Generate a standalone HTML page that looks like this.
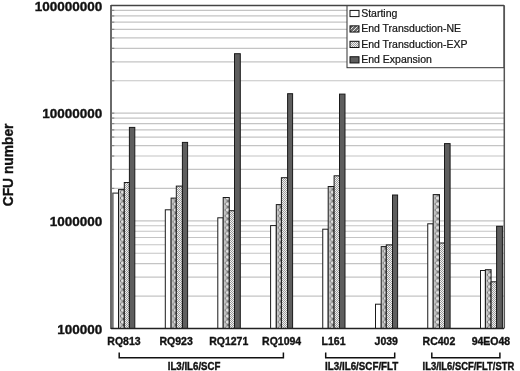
<!DOCTYPE html>
<html><head><meta charset="utf-8"><style>
html,body{margin:0;padding:0;background:#fff;}
body{width:520px;height:371px;overflow:hidden;position:relative;}
svg{position:absolute;left:0;top:0;will-change:transform;}
text{font-family:"Liberation Sans",sans-serif;}
.b{stroke:#111;stroke-width:0.35px;paint-order:stroke;}
.r{stroke:#222;stroke-width:0.22px;}
</style></head><body>
<svg width="520" height="371" viewBox="0 0 520 371">
<defs>
<pattern id="pNE" width="6" height="6" patternUnits="userSpaceOnUse" y="0.3">
<rect width="6" height="6" fill="#b4b4b4"/>
<ellipse cx="3.2" cy="3" rx="2.2" ry="1.3" transform="rotate(-50 3.2 3)" fill="#f2f2f2" stroke="#6a6a6a" stroke-width="0.7"/>
<circle cx="5.6" cy="5.4" r="0.7" fill="#333"/>
<circle cx="0.4" cy="0.6" r="0.6" fill="#444"/>
</pattern>
<pattern id="pEXP" width="2" height="2" patternUnits="userSpaceOnUse">
<rect width="2" height="2" fill="#f0f0f0"/>
<rect width="1" height="1" fill="#9c9c9c"/>
<rect x="1" y="1" width="1" height="1" fill="#9c9c9c"/>
</pattern>
<pattern id="pNEL" width="4" height="4" patternUnits="userSpaceOnUse">
<rect width="4" height="4" fill="#6e6e6e"/>
<path d="M0 4 L4 0" stroke="#e8e8e8" stroke-width="1"/>
</pattern>
</defs>

<line x1="111" y1="296.10" x2="504" y2="296.10" stroke="#c4c4c4" stroke-width="1.2"/>
<line x1="111" y1="277.14" x2="504" y2="277.14" stroke="#c4c4c4" stroke-width="1.2"/>
<line x1="111" y1="263.69" x2="504" y2="263.69" stroke="#c4c4c4" stroke-width="1.2"/>
<line x1="111" y1="253.25" x2="504" y2="253.25" stroke="#c4c4c4" stroke-width="1.2"/>
<line x1="111" y1="244.73" x2="504" y2="244.73" stroke="#c4c4c4" stroke-width="1.2"/>
<line x1="111" y1="237.52" x2="504" y2="237.52" stroke="#c4c4c4" stroke-width="1.2"/>
<line x1="111" y1="231.27" x2="504" y2="231.27" stroke="#c4c4c4" stroke-width="1.2"/>
<line x1="111" y1="225.77" x2="504" y2="225.77" stroke="#c4c4c4" stroke-width="1.2"/>
<line x1="111" y1="220.84" x2="504" y2="220.84" stroke="#c4c4c4" stroke-width="1.2"/>
<line x1="111" y1="188.43" x2="504" y2="188.43" stroke="#c4c4c4" stroke-width="1.2"/>
<line x1="111" y1="169.47" x2="504" y2="169.47" stroke="#c4c4c4" stroke-width="1.2"/>
<line x1="111" y1="156.02" x2="504" y2="156.02" stroke="#c4c4c4" stroke-width="1.2"/>
<line x1="111" y1="145.58" x2="504" y2="145.58" stroke="#c4c4c4" stroke-width="1.2"/>
<line x1="111" y1="137.06" x2="504" y2="137.06" stroke="#c4c4c4" stroke-width="1.2"/>
<line x1="111" y1="129.85" x2="504" y2="129.85" stroke="#c4c4c4" stroke-width="1.2"/>
<line x1="111" y1="123.60" x2="504" y2="123.60" stroke="#c4c4c4" stroke-width="1.2"/>
<line x1="111" y1="118.10" x2="504" y2="118.10" stroke="#c4c4c4" stroke-width="1.2"/>
<line x1="111" y1="113.17" x2="504" y2="113.17" stroke="#c4c4c4" stroke-width="1.2"/>
<line x1="111" y1="80.76" x2="504" y2="80.76" stroke="#c4c4c4" stroke-width="1.2"/>
<line x1="111" y1="61.80" x2="504" y2="61.80" stroke="#c4c4c4" stroke-width="1.2"/>
<line x1="111" y1="48.35" x2="504" y2="48.35" stroke="#c4c4c4" stroke-width="1.2"/>
<line x1="111" y1="37.91" x2="504" y2="37.91" stroke="#c4c4c4" stroke-width="1.2"/>
<line x1="111" y1="29.39" x2="504" y2="29.39" stroke="#c4c4c4" stroke-width="1.2"/>
<line x1="111" y1="22.18" x2="504" y2="22.18" stroke="#c4c4c4" stroke-width="1.2"/>
<line x1="111" y1="15.93" x2="504" y2="15.93" stroke="#c4c4c4" stroke-width="1.2"/>
<line x1="111" y1="10.43" x2="504" y2="10.43" stroke="#c4c4c4" stroke-width="1.2"/>
<line x1="111" y1="296.10" x2="114.3" y2="296.10" stroke="#8a8a8a" stroke-width="1.2"/>
<line x1="111" y1="277.14" x2="114.3" y2="277.14" stroke="#8a8a8a" stroke-width="1.2"/>
<line x1="111" y1="263.69" x2="114.3" y2="263.69" stroke="#8a8a8a" stroke-width="1.2"/>
<line x1="111" y1="253.25" x2="114.3" y2="253.25" stroke="#8a8a8a" stroke-width="1.2"/>
<line x1="111" y1="244.73" x2="114.3" y2="244.73" stroke="#8a8a8a" stroke-width="1.2"/>
<line x1="111" y1="237.52" x2="114.3" y2="237.52" stroke="#8a8a8a" stroke-width="1.2"/>
<line x1="111" y1="231.27" x2="114.3" y2="231.27" stroke="#8a8a8a" stroke-width="1.2"/>
<line x1="111" y1="225.77" x2="114.3" y2="225.77" stroke="#8a8a8a" stroke-width="1.2"/>
<line x1="111" y1="220.84" x2="114.3" y2="220.84" stroke="#8a8a8a" stroke-width="1.2"/>
<line x1="111" y1="188.43" x2="114.3" y2="188.43" stroke="#8a8a8a" stroke-width="1.2"/>
<line x1="111" y1="169.47" x2="114.3" y2="169.47" stroke="#8a8a8a" stroke-width="1.2"/>
<line x1="111" y1="156.02" x2="114.3" y2="156.02" stroke="#8a8a8a" stroke-width="1.2"/>
<line x1="111" y1="145.58" x2="114.3" y2="145.58" stroke="#8a8a8a" stroke-width="1.2"/>
<line x1="111" y1="137.06" x2="114.3" y2="137.06" stroke="#8a8a8a" stroke-width="1.2"/>
<line x1="111" y1="129.85" x2="114.3" y2="129.85" stroke="#8a8a8a" stroke-width="1.2"/>
<line x1="111" y1="123.60" x2="114.3" y2="123.60" stroke="#8a8a8a" stroke-width="1.2"/>
<line x1="111" y1="118.10" x2="114.3" y2="118.10" stroke="#8a8a8a" stroke-width="1.2"/>
<line x1="111" y1="113.17" x2="114.3" y2="113.17" stroke="#8a8a8a" stroke-width="1.2"/>
<line x1="111" y1="80.76" x2="114.3" y2="80.76" stroke="#8a8a8a" stroke-width="1.2"/>
<line x1="111" y1="61.80" x2="114.3" y2="61.80" stroke="#8a8a8a" stroke-width="1.2"/>
<line x1="111" y1="48.35" x2="114.3" y2="48.35" stroke="#8a8a8a" stroke-width="1.2"/>
<line x1="111" y1="37.91" x2="114.3" y2="37.91" stroke="#8a8a8a" stroke-width="1.2"/>
<line x1="111" y1="29.39" x2="114.3" y2="29.39" stroke="#8a8a8a" stroke-width="1.2"/>
<line x1="111" y1="22.18" x2="114.3" y2="22.18" stroke="#8a8a8a" stroke-width="1.2"/>
<line x1="111" y1="15.93" x2="114.3" y2="15.93" stroke="#8a8a8a" stroke-width="1.2"/>
<line x1="111" y1="10.43" x2="114.3" y2="10.43" stroke="#8a8a8a" stroke-width="1.2"/>
<rect x="347" y="5.5" width="157" height="62.2" fill="#fff" stroke="#333" stroke-width="1"/>
<defs><pattern id="pNE0" width="6" height="5.9" patternUnits="userSpaceOnUse" x="119.00" y="0.5"><rect width="6" height="6" fill="#c6c6c6"/><path d="M4.5 1.2 A2.0 2.0 0 1 0 4.5 4.7" fill="#f4f4f4" stroke="#555" stroke-width="0.9"/><circle cx="3.1" cy="2.9" r="0.6" fill="#c8c8c8"/><circle cx="4.5" cy="0.1" r="0.75" fill="#1e1e1e"/><circle cx="4.5" cy="5.999" r="0.75" fill="#1e1e1e"/></pattern><pattern id="pNE1" width="6" height="5.9" patternUnits="userSpaceOnUse" x="171.60" y="0.5"><rect width="6" height="6" fill="#c6c6c6"/><path d="M4.5 1.2 A2.0 2.0 0 1 0 4.5 4.7" fill="#f4f4f4" stroke="#555" stroke-width="0.9"/><circle cx="3.1" cy="2.9" r="0.6" fill="#c8c8c8"/><circle cx="4.5" cy="0.1" r="0.75" fill="#1e1e1e"/><circle cx="4.5" cy="5.999" r="0.75" fill="#1e1e1e"/></pattern><pattern id="pNE2" width="6" height="5.9" patternUnits="userSpaceOnUse" x="223.70" y="0.5"><rect width="6" height="6" fill="#c6c6c6"/><path d="M4.5 1.2 A2.0 2.0 0 1 0 4.5 4.7" fill="#f4f4f4" stroke="#555" stroke-width="0.9"/><circle cx="3.1" cy="2.9" r="0.6" fill="#c8c8c8"/><circle cx="4.5" cy="0.1" r="0.75" fill="#1e1e1e"/><circle cx="4.5" cy="5.999" r="0.75" fill="#1e1e1e"/></pattern><pattern id="pNE3" width="6" height="5.9" patternUnits="userSpaceOnUse" x="276.80" y="0.5"><rect width="6" height="6" fill="#c6c6c6"/><path d="M4.5 1.2 A2.0 2.0 0 1 0 4.5 4.7" fill="#f4f4f4" stroke="#555" stroke-width="0.9"/><circle cx="3.1" cy="2.9" r="0.6" fill="#c8c8c8"/><circle cx="4.5" cy="0.1" r="0.75" fill="#1e1e1e"/><circle cx="4.5" cy="5.999" r="0.75" fill="#1e1e1e"/></pattern><pattern id="pNE4" width="6" height="5.9" patternUnits="userSpaceOnUse" x="328.70" y="0.5"><rect width="6" height="6" fill="#c6c6c6"/><path d="M4.5 1.2 A2.0 2.0 0 1 0 4.5 4.7" fill="#f4f4f4" stroke="#555" stroke-width="0.9"/><circle cx="3.1" cy="2.9" r="0.6" fill="#c8c8c8"/><circle cx="4.5" cy="0.1" r="0.75" fill="#1e1e1e"/><circle cx="4.5" cy="5.999" r="0.75" fill="#1e1e1e"/></pattern><pattern id="pNE5" width="6" height="5.9" patternUnits="userSpaceOnUse" x="381.70" y="0.5"><rect width="6" height="6" fill="#c6c6c6"/><path d="M4.5 1.2 A2.0 2.0 0 1 0 4.5 4.7" fill="#f4f4f4" stroke="#555" stroke-width="0.9"/><circle cx="3.1" cy="2.9" r="0.6" fill="#c8c8c8"/><circle cx="4.5" cy="0.1" r="0.75" fill="#1e1e1e"/><circle cx="4.5" cy="5.999" r="0.75" fill="#1e1e1e"/></pattern><pattern id="pNE6" width="6" height="5.9" patternUnits="userSpaceOnUse" x="433.70" y="0.5"><rect width="6" height="6" fill="#c6c6c6"/><path d="M4.5 1.2 A2.0 2.0 0 1 0 4.5 4.7" fill="#f4f4f4" stroke="#555" stroke-width="0.9"/><circle cx="3.1" cy="2.9" r="0.6" fill="#c8c8c8"/><circle cx="4.5" cy="0.1" r="0.75" fill="#1e1e1e"/><circle cx="4.5" cy="5.999" r="0.75" fill="#1e1e1e"/></pattern><pattern id="pNE7" width="6" height="5.9" patternUnits="userSpaceOnUse" x="485.90" y="0.5"><rect width="6" height="6" fill="#c6c6c6"/><path d="M4.5 1.2 A2.0 2.0 0 1 0 4.5 4.7" fill="#f4f4f4" stroke="#555" stroke-width="0.9"/><circle cx="3.1" cy="2.9" r="0.6" fill="#c8c8c8"/><circle cx="4.5" cy="0.1" r="0.75" fill="#1e1e1e"/><circle cx="4.5" cy="5.999" r="0.75" fill="#1e1e1e"/></pattern></defs>
<rect x="112.80" y="193.10" width="5.70" height="135.40" fill="#ffffff" stroke="#1a1a1a" stroke-width="1"/>
<rect x="118.50" y="189.60" width="5.80" height="138.90" fill="url(#pNE0)" stroke="#1a1a1a" stroke-width="1"/>
<rect x="124.30" y="182.50" width="5.10" height="146.00" fill="url(#pEXP)" stroke="#1a1a1a" stroke-width="1"/>
<rect x="129.40" y="127.40" width="5.40" height="201.10" fill="#5e5e5e" stroke="#1a1a1a" stroke-width="1"/>
<rect x="165.30" y="209.80" width="5.80" height="118.70" fill="#ffffff" stroke="#1a1a1a" stroke-width="1"/>
<rect x="171.10" y="198.10" width="5.20" height="130.40" fill="url(#pNE1)" stroke="#1a1a1a" stroke-width="1"/>
<rect x="176.30" y="186.10" width="6.10" height="142.40" fill="url(#pEXP)" stroke="#1a1a1a" stroke-width="1"/>
<rect x="182.40" y="142.40" width="5.20" height="186.10" fill="#5e5e5e" stroke="#1a1a1a" stroke-width="1"/>
<rect x="217.80" y="217.80" width="5.40" height="110.70" fill="#ffffff" stroke="#1a1a1a" stroke-width="1"/>
<rect x="223.20" y="197.50" width="6.10" height="131.00" fill="url(#pNE2)" stroke="#1a1a1a" stroke-width="1"/>
<rect x="229.30" y="210.70" width="5.20" height="117.80" fill="url(#pEXP)" stroke="#1a1a1a" stroke-width="1"/>
<rect x="234.50" y="53.70" width="5.80" height="274.80" fill="#5e5e5e" stroke="#1a1a1a" stroke-width="1"/>
<rect x="270.60" y="225.60" width="5.70" height="102.90" fill="#ffffff" stroke="#1a1a1a" stroke-width="1"/>
<rect x="276.30" y="204.60" width="5.10" height="123.90" fill="url(#pNE3)" stroke="#1a1a1a" stroke-width="1"/>
<rect x="281.40" y="177.70" width="6.20" height="150.80" fill="url(#pEXP)" stroke="#1a1a1a" stroke-width="1"/>
<rect x="287.60" y="93.70" width="5.00" height="234.80" fill="#5e5e5e" stroke="#1a1a1a" stroke-width="1"/>
<rect x="322.75" y="229.20" width="5.45" height="99.30" fill="#ffffff" stroke="#1a1a1a" stroke-width="1"/>
<rect x="328.20" y="186.50" width="5.90" height="142.00" fill="url(#pNE4)" stroke="#1a1a1a" stroke-width="1"/>
<rect x="334.10" y="175.80" width="5.40" height="152.70" fill="url(#pEXP)" stroke="#1a1a1a" stroke-width="1"/>
<rect x="339.50" y="94.10" width="5.50" height="234.40" fill="#5e5e5e" stroke="#1a1a1a" stroke-width="1"/>
<rect x="375.50" y="304.20" width="5.70" height="24.30" fill="#ffffff" stroke="#1a1a1a" stroke-width="1"/>
<rect x="381.20" y="246.60" width="5.10" height="81.90" fill="url(#pNE5)" stroke="#1a1a1a" stroke-width="1"/>
<rect x="386.30" y="244.90" width="6.20" height="83.60" fill="url(#pEXP)" stroke="#1a1a1a" stroke-width="1"/>
<rect x="392.50" y="195.00" width="5.10" height="133.50" fill="#5e5e5e" stroke="#1a1a1a" stroke-width="1"/>
<rect x="427.75" y="223.80" width="5.45" height="104.70" fill="#ffffff" stroke="#1a1a1a" stroke-width="1"/>
<rect x="433.20" y="194.60" width="6.30" height="133.90" fill="url(#pNE6)" stroke="#1a1a1a" stroke-width="1"/>
<rect x="439.50" y="243.00" width="5.00" height="85.50" fill="url(#pEXP)" stroke="#1a1a1a" stroke-width="1"/>
<rect x="444.50" y="143.60" width="5.60" height="184.90" fill="#5e5e5e" stroke="#1a1a1a" stroke-width="1"/>
<rect x="480.50" y="270.50" width="4.90" height="58.00" fill="#ffffff" stroke="#1a1a1a" stroke-width="1"/>
<rect x="485.40" y="269.70" width="5.70" height="58.80" fill="url(#pNE7)" stroke="#1a1a1a" stroke-width="1"/>
<rect x="491.10" y="281.80" width="5.50" height="46.70" fill="url(#pEXP)" stroke="#1a1a1a" stroke-width="1"/>
<rect x="496.60" y="226.30" width="5.80" height="102.20" fill="#5e5e5e" stroke="#1a1a1a" stroke-width="1"/>
<line x1="112.8" y1="193.4" x2="112.8" y2="328" stroke="#7a7a7a" stroke-width="1.3"/>
<line x1="111" y1="5.0" x2="111" y2="329.0" stroke="#6a6a6a" stroke-width="2"/>
<line x1="111" y1="5.5" x2="504" y2="5.5" stroke="#444" stroke-width="1.3"/>
<line x1="504.3" y1="5.5" x2="504.3" y2="328.5" stroke="#555" stroke-width="1.5"/>
<line x1="111" y1="328.5" x2="504" y2="328.5" stroke="#222" stroke-width="1.3"/>
<text x="102.3" y="10.60" text-anchor="end" font-size="13.5" font-weight="bold" fill="#111" class="b">100000000</text>
<text x="102.3" y="118.27" text-anchor="end" font-size="13.5" font-weight="bold" fill="#111" class="b">10000000</text>
<text x="102.3" y="225.94" text-anchor="end" font-size="13.5" font-weight="bold" fill="#111" class="b">1000000</text>
<text x="102.3" y="333.61" text-anchor="end" font-size="13.5" font-weight="bold" fill="#111" class="b">100000</text>
<text transform="translate(12.8,164.9) rotate(-90)" text-anchor="middle" font-size="13.8" font-weight="bold" fill="#111" class="b">CFU number</text>
<text x="124.00" y="344.7" text-anchor="middle" font-size="10.5" font-weight="bold" fill="#111" class="b">RQ813</text>
<text x="176.15" y="344.7" text-anchor="middle" font-size="10.5" font-weight="bold" fill="#111" class="b">RQ923</text>
<text x="228.70" y="344.7" text-anchor="middle" font-size="10.5" font-weight="bold" fill="#111" class="b">RQ1271</text>
<text x="281.65" y="344.7" text-anchor="middle" font-size="10.5" font-weight="bold" fill="#111" class="b">RQ1094</text>
<text x="333.55" y="344.7" text-anchor="middle" font-size="10.5" font-weight="bold" fill="#111" class="b">L161</text>
<text x="386.25" y="344.7" text-anchor="middle" font-size="10.5" font-weight="bold" fill="#111" class="b">J039</text>
<text x="438.95" y="344.7" text-anchor="middle" font-size="10.5" font-weight="bold" fill="#111" class="b">RC402</text>
<text x="490.90" y="344.7" text-anchor="middle" font-size="10.5" font-weight="bold" fill="#111" class="b">94EO48</text>
<path d="M119.2 352.5 V357.8 H283.4 V352.5" fill="none" stroke="#111" stroke-width="1.5"/>
<text transform="translate(194.10,370.1) scale(1,1.1)" text-anchor="middle" font-size="9.7" font-weight="bold" fill="#111" class="b">IL3/IL6/SCF</text>
<path d="M325.7 352.5 V357.8 H394.7 V352.5" fill="none" stroke="#111" stroke-width="1.5"/>
<text transform="translate(361.70,370.1) scale(1,1.1)" text-anchor="middle" font-size="9.8" font-weight="bold" fill="#111" class="b">IL3/IL6/SCF/FLT</text>
<path d="M431.8 352.5 V357.8 H499.9 V352.5" fill="none" stroke="#111" stroke-width="1.5"/>
<text transform="translate(468.40,370.1) scale(1,1.1)" text-anchor="middle" font-size="9.4" font-weight="bold" fill="#111" class="b">IL3/IL6/SCF/FLT/STR</text>
<rect x="350" y="10.40" width="9" height="6.2" fill="#ffffff" stroke="#111" stroke-width="1"/>
<text x="361.2" y="16.90" font-size="10.5" fill="#111" class="r">Starting</text>
<rect x="350" y="25.85" width="9" height="6.2" fill="url(#pNEL)" stroke="#111" stroke-width="1"/>
<text x="361.2" y="32.30" font-size="10.5" fill="#111" class="r">End Transduction-NE</text>
<rect x="350" y="41.30" width="9" height="6.2" fill="url(#pEXP)" stroke="#111" stroke-width="1"/>
<text x="361.2" y="47.70" font-size="10.5" fill="#111" class="r">End Transduction-EXP</text>
<rect x="350" y="56.75" width="9" height="6.2" fill="#5e5e5e" stroke="#111" stroke-width="1"/>
<text x="361.2" y="63.10" font-size="10.5" fill="#111" class="r">End Expansion</text>
</svg></body></html>
